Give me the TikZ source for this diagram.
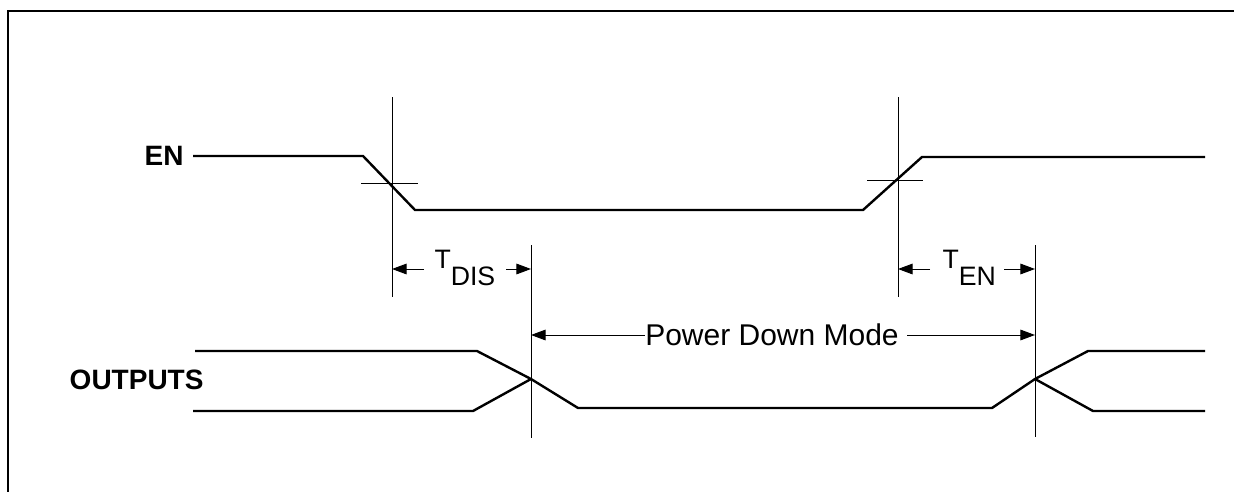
\documentclass[tikz,border=0pt]{standalone}
\usepackage{fontspec}
\setmainfont{Liberation Sans}
\usetikzlibrary{arrows.meta}

\tikzset{every picture/.style={line width=0.75pt}}
\tikzset{
  signal/.style={line width=1.8pt, line join=miter},
  refline/.style={line width=0.75pt},
  dimarrow/.style={line width=0.75pt, -{Triangle[length=11pt,width=8pt]}},
  labelbold/.style={font=\fontsize{21}{25}\selectfont\bfseries, inner sep=0pt},
  labeltext/.style={font=\fontsize{20}{24}\selectfont, inner sep=0pt}
}

\begin{document}
\begin{tikzpicture}[x=0.75pt,y=0.75pt,yscale=-1,xscale=1]
	\useasboundingbox (0,0) rectangle (1234,492);

	%Shape: Frame
	\draw [line width=2pt]  (8,495) -- (8,11) -- (1237,11) ;

	% Crossing points
	\coordinate (disX) at (392,183);
	\coordinate (enX) at (898,180);
	\coordinate (outA) at (531,379);
	\coordinate (outB) at (1035,379);

	%Straight Lines: reference lines
	\draw [refline]  (392,97) -- (392,297) ;
	\draw [refline]  (898,97) -- (898,297) ;
	\draw [refline]  (531,245) -- (531,438) ;
	\draw [refline]  (1035,245) -- (1035,437) ;
	%Straight Lines: ticks
	\draw [refline]  (361,183) -- (418,183) ;
	\draw [refline]  (867,180) -- (923,180) ;

	%Signal: EN
	\draw [signal]  (193,156) -- (363,156) -- (415,210) -- (863,210) -- (922,157) -- (1205,157) ;

	%Signal: OUTPUTS
	\draw [signal]  (195,351) -- (477,351) -- (outA) -- (578,408) -- (992,408) -- (outB) -- (1088,351) -- (1205,351) ;
	\draw [signal]  (193,411) -- (473,411) -- (outA) ;
	\draw [signal]  (outB) -- (1093,411) -- (1205,411) ;

	% Text Node
	\node [labelbold, anchor=east] (en) at (184,156) {EN};
	% Text Node
	\node [labelbold, anchor=east] (outputs) at (204,380) {OUTPUTS};

	% Text Node
	\node [labeltext, anchor=base west] (tdis) at (434,268) {T\raisebox{-0.65em}{DIS}};
	\draw [dimarrow]  (424,269) -- (392,269) ;
	\draw [dimarrow]  (506,269) -- (531,269) ;

	% Text Node
	\node [labeltext, anchor=base west] (ten) at (942,268) {T\raisebox{-0.65em}{EN}};
	\draw [dimarrow]  (930,269) -- (898,269) ;
	\draw [dimarrow]  (1004,269) -- (1035,269) ;

	% Text Node
	\node [labeltext, font=\fontsize{22.5}{26}\selectfont] (pdm) at (772,335) {Power Down Mode};
	\draw [dimarrow]  (pdm.west) -- (531,335) ;
	\draw [dimarrow]  ([xshift=6pt]pdm.east) -- (1035,335) ;

\end{tikzpicture}
\end{document}
